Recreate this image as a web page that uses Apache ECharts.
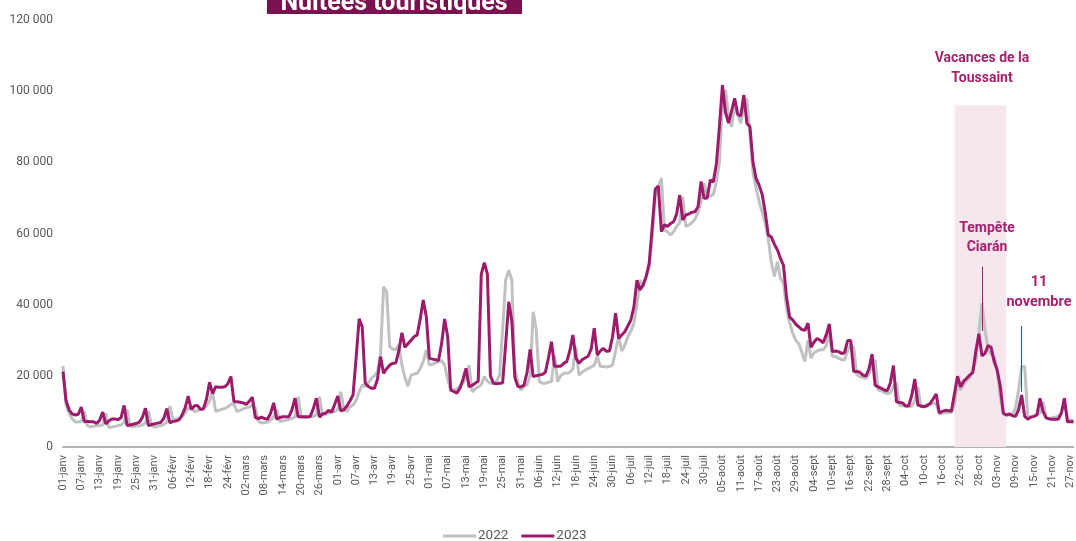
<!DOCTYPE html>
<html>
<head>
<meta charset="utf-8">
<script src="https://cdn.jsdelivr.net/npm/echarts@6.0.0/dist/echarts.min.js"></script>
<style>
html,body{margin:0;padding:0;background:#fff;}
#chart{width:1076px;height:541px;}
</style>
</head>
<body>
<div id="chart"></div>
<script>
// Month names and lengths used for the daily category labels
const months = ['janv','févr','mars','avr','mai','juin','juil','août','sept','oct','nov'];
const monthDays = [31,28,31,30,31,30,31,31,30,31,30];

// Daily tourist nights 2022 (grey)
const v2022 = [
22800,12000,9500,8000,7000,7000,7200,
10000,6000,5700,5800,6000,6000,6200,
9500,5500,5600,5800,6000,6200,6800,
10500,5800,5700,5900,6000,6200,6800,
10000,6000,5600,5800,6000,6300,7000,
11500,7800,7800,8000,8500,9500,11000,
11300,10000,10200,10500,10900,11500,13000,
15500,10000,10300,10600,10800,11300,12000,
12000,10000,10300,10700,11000,11200,11800,
11000,7200,6800,6800,7000,7500,8500,
10500,7200,7300,7500,7800,8000,8500,
14100,8500,8200,8300,8500,8600,9000,
14100,9000,9200,9500,9800,10000,10500,
15500,10500,10000,11300,11800,13000,15500,
17400,17000,18000,19300,20000,21200,26000,
45000,43600,28200,27500,27300,28700,23000,
19500,17100,20200,20500,20700,22000,24000,
27300,23000,23300,23600,24000,24300,23000,
19000,16000,16000,16300,17000,17900,19500,
23000,15500,16300,16900,17500,19800,18500,
17900,17900,18500,20000,33000,47000,49700,
47000,22000,17900,16000,17000,17500,20000,
38000,33000,18400,17900,17900,18200,18400,
25800,18400,20000,20700,20700,21000,22000,
28200,20200,21000,21600,22000,22500,23000,
25500,22600,22600,22500,22600,23000,27000,
31000,27000,28500,31000,32500,34800,40000,
46900,45000,47900,50500,59000,70000,73000,
75500,61000,60500,59600,60500,62000,63000,
70300,62000,62400,63000,64000,66000,69000,
74100,70300,70500,71000,74600,80000,96000,
100300,93000,90000,96000,93300,91000,96000,
97900,88000,77000,73000,69000,66000,63000,
58500,52000,47900,52100,47400,46000,39000,
35000,32000,30000,29000,26600,24000,30000,
25000,26500,27000,27300,27300,28500,32000,
25500,25400,25000,24500,24500,27000,28700,
28000,20300,19800,19500,19300,20500,23000,
24500,16000,15800,15300,15000,15200,17000,
18000,11800,11600,11500,11300,11500,13000,
16900,11300,11500,11800,12000,12200,12400,
9300,9500,9600,9800,9600,12000,17800,
16000,17500,18700,19500,21700,24000,32000,
40400,32900,27300,26000,25500,21500,14000,
9300,9000,9000,9000,11000,16000,22600,
22600,8600,8400,8600,9000,9500,12700,
8200,8000,8200,8400,8600,9500,12700,
7800,7600,7500
];

// Daily tourist nights 2023 (purple)
const v2023 = [
21200,13000,10400,9300,9000,9200,11200,
7100,7200,7100,7100,6600,7500,9800,
6500,7300,7900,7900,7700,8200,11700,
6000,6200,6400,6600,7000,8300,10900,
6000,6300,6500,6700,6900,8000,10800,
6800,7200,7300,7600,9000,11000,14300,
10500,11500,11700,10600,10700,13500,18200,
15000,16900,16800,16800,16900,17800,19800,
12700,12700,12600,12400,12000,12800,14000,
8300,8000,8400,8000,7800,9500,12400,
7800,8300,8500,8500,8500,10500,13700,
8500,8500,8500,8500,8600,10800,13700,
8400,9300,9500,10300,9800,12000,14300,
10100,10500,11500,13000,14600,25000,36000,
33800,17900,17000,16500,16500,19000,25400,
20700,22000,23000,23500,23600,27000,32100,
28000,29000,30000,31000,31500,36000,41300,
36600,24900,24700,24500,24300,29000,36000,
31000,16000,15600,15100,16500,19000,22100,
16900,17300,17900,18500,48500,51800,48600,
20000,17900,17800,17900,18000,29000,40800,
35500,19500,17000,16900,17400,21000,27400,
19800,20000,20200,20400,21000,25000,29600,
22700,22700,22700,23500,24000,27000,31500,
25000,23500,24500,25000,25500,27500,33400,
25800,27000,27700,26900,27000,31000,37600,
30500,31500,32400,34000,35700,39400,46900,
44100,45500,47900,51600,61900,72500,73300,
60500,62400,62000,62800,63300,65500,70800,
63800,65200,65500,66000,66100,67500,74600,
69900,70000,75000,74500,79500,90000,101700,
94000,91000,94500,98000,93500,93000,98900,
91000,90000,80000,75500,73600,71000,66000,
59600,59000,57000,55400,53000,51000,42000,
36500,35700,34500,33800,33000,32800,34800,
28000,29500,30500,30000,29300,31500,34600,
26800,27000,26800,26300,26500,29900,29900,
21200,21200,21000,20200,19900,22000,26100,
17400,16900,16500,16000,15800,18000,22900,
12700,12500,12400,11500,11600,14500,19100,
11800,11500,11300,11600,12200,13500,14900,
9600,10000,10300,10200,10100,15000,19900,
16900,18500,19300,20200,20900,27000,31800,
25600,26300,28500,28000,24000,21600,17000,
9500,9000,9300,8800,8600,10500,14600,
8600,7800,8400,8600,9000,13700,10000,
8200,7900,7800,7800,7800,9500,13700,
7100,7100,7100
];

// Annotations (category, value range)
const holidayStart = '20-oct';
const holidayEnd = '06-nov';
const holidayTop = 96000;
const stormDay = '29-oct';
const stormRange = [32600, 50700];
const armisticeDay = '11-nov';
const armisticeRange = [15500, 34000];

const allDates = [];
for (let m = 0; m < months.length; m++) {
  for (let d = 1; d <= monthDays[m]; d++) {
    allDates.push(String(d).padStart(2, '0') + '-' + months[m]);
  }
}
const categories = allDates.slice(0, v2023.length);

const fmt = v => String(v).replace(/\B(?=(\d{3})+(?!\d))/g, ' ');
const FONT = 'Roboto, "Noto Sans", sans-serif';
const ANN = '#a3236e';

const chart = echarts.init(document.getElementById('chart'));
chart.setOption({
  animation: false,
  grid: { left: 63, right: 1, top: 20, bottom: 94 },
  xAxis: {
    type: 'category',
    data: categories,
    boundaryGap: false,
    axisTick: { show: false },
    axisLine: { lineStyle: { color: '#9a9a9a', width: 1.5 } },
    axisLabel: { interval: 5, rotate: 90, fontSize: 11, color: '#595959', margin: 8, fontFamily: FONT }
  },
  yAxis: {
    type: 'value',
    min: 0, max: 120000, interval: 20000,
    splitLine: { show: false },
    axisLine: { show: false },
    axisTick: { show: false },
    axisLabel: { fontSize: 12, color: '#595959', margin: 10, fontFamily: FONT, formatter: fmt }
  },
  legend: {
    top: 529,
    left: 443,
    itemWidth: 33,
    itemHeight: 3,
    itemGap: 13,
    padding: 0,
    textStyle: { fontSize: 13.5, color: '#595959', fontFamily: FONT, padding: [0, 0, 0, -3] },
    data: [
      { name: '2022', icon: 'rect' },
      { name: '2023', icon: 'rect' }
    ]
  },
  series: [
    {
      name: '2022',
      type: 'line',
      data: v2022,
      symbol: 'none',
      lineStyle: { color: '#bfc1c3', width: 3 },
      itemStyle: { color: '#bfc1c3' },
      z: 2,
      markArea: {
        silent: true,
        itemStyle: { color: '#f6e6ee' },
        data: [[{ xAxis: holidayStart, yAxis: 0 }, { xAxis: holidayEnd, yAxis: holidayTop }]]
      }
    },
    {
      name: '2023',
      type: 'line',
      data: v2023,
      symbol: 'none',
      lineStyle: { color: '#9e1a6b', width: 3 },
      itemStyle: { color: '#9e1a6b' },
      z: 3,
      markLine: {
        silent: true,
        symbol: 'none',
        label: { show: false },
        lineStyle: { color: '#8e2a63', width: 1, type: 'solid' },
        data: [
          [{ coord: [stormDay, stormRange[0]] }, { coord: [stormDay, stormRange[1]] }],
          [{ coord: [armisticeDay, armisticeRange[0]] }, { coord: [armisticeDay, armisticeRange[1]] }]
        ]
      }
    }
  ],
  graphic: [
    { type: 'rect', left: 267, top: -20, shape: { width: 255, height: 34 }, style: { fill: '#7a1250' }, z: 10 },
    { type: 'text', x: 394, y: 4, style: { text: 'Nuitées touristiques', fill: '#ffffff', font: 'bold 25px ' + FONT, textAlign: 'center', textVerticalAlign: 'middle' }, z: 11 },
    { type: 'text', x: 982, y: 68, style: { text: 'Vacances de la\nToussaint', fill: ANN, font: 'bold 14px ' + FONT, textAlign: 'center', textVerticalAlign: 'middle', lineHeight: 20 }, z: 11 },
    { type: 'text', x: 987, y: 238, style: { text: 'Tempête\nCiarán', fill: ANN, font: 'bold 14px ' + FONT, textAlign: 'center', textVerticalAlign: 'middle', lineHeight: 19 }, z: 11 },
    { type: 'text', x: 1039, y: 292, style: { text: '11\nnovembre', fill: ANN, font: 'bold 14.5px ' + FONT, textAlign: 'center', textVerticalAlign: 'middle', lineHeight: 20 }, z: 11 }
  ]
});
</script>
</body>
</html>
